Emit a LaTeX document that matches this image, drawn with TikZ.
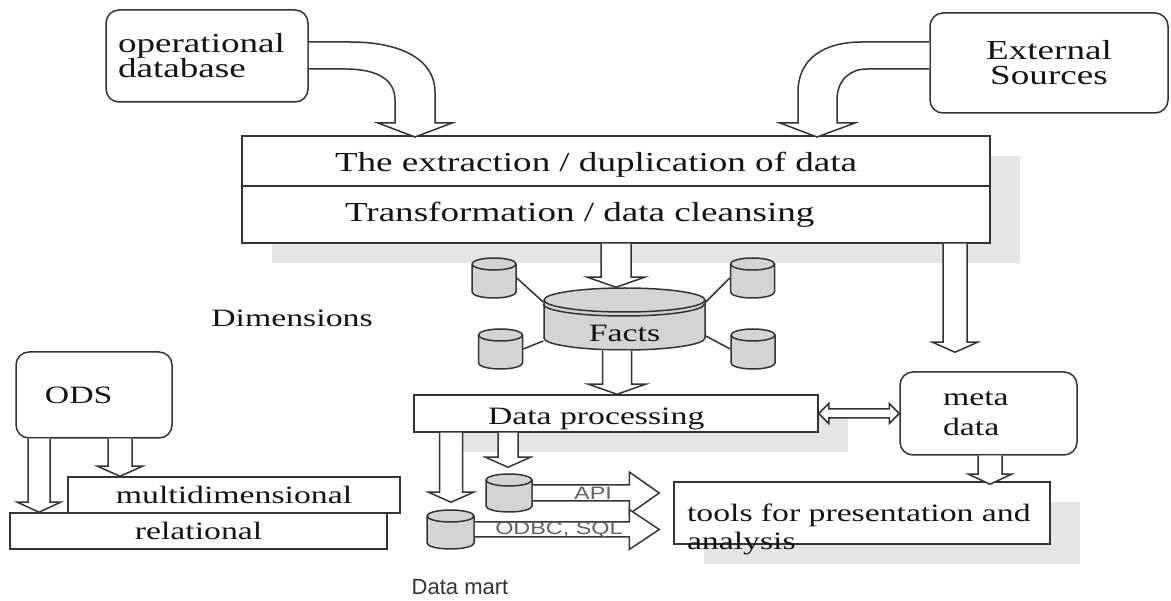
\documentclass[tikz,border=0pt]{standalone}
\usepackage{fontspec}
\setmainfont{Liberation Serif}[FakeStretch=1.35]
\newfontfamily\labelfont{Liberation Sans}[FakeStretch=1.3]
\newfontfamily\martfont{Liberation Sans}
\usetikzlibrary{shadows,calc}

\begin{document}
\begin{tikzpicture}[x=1pt, y=-1pt, line width=1.5pt,
    every node/.style={text=black!92},
    frame/.style={draw=black!80, fill=white, inner sep=0pt},
    roundbox/.style={frame, rounded corners=13pt},
    shadebox/.style={frame, drop shadow={shadow xshift=30pt, shadow yshift=-20pt, fill=black!10, opacity=1}},
    can/.style={draw=black!80, fill=black!17},
    fatarrow/.style={draw=black!80, fill=white, line width=1.5pt, line join=miter},
    big/.style={font=\fontsize{27.5}{25}\selectfont},
    norm/.style={font=\fontsize{25}{28}\selectfont},
    sans/.style={font=\labelfont\fontsize{18}{20}\selectfont, text=black!62}]
  % 1 unit = 1pt, y runs downwards
  \useasboundingbox (0,0) rectangle (1171,601);

  % hollow block arrows: x, from, to, half shaft, half head
  \newcommand{\fatdown}[5]{
    \draw[fatarrow] let \p1=#2, \p2=#3 in
      (#1pt-#4pt,\y1) -- (#1pt-#4pt,\y2+10pt) -- (#1pt-#5pt,\y2+10pt) -- (#1pt,\y2)
      -- (#1pt+#5pt,\y2+10pt) -- (#1pt+#4pt,\y2+10pt) -- (#1pt+#4pt,\y1);
  }
  % from, to, half shaft, half head, head length
  \newcommand{\fatright}[5]{
    \draw[fatarrow] let \p1=#1, \p2=#2 in
      (\x1,\y1+#3pt) -- (\x2-#5pt,\y1+#3pt) -- (\x2-#5pt,\y1+#4pt) -- (\x2,\y1)
      -- (\x2-#5pt,\y1-#4pt) -- (\x2-#5pt,\y1-#3pt) -- (\x1,\y1-#3pt);
  }
  % database can: [node opts] name, x, y, width, height, cap radius, text
  \newcommand{\dbcan}[8][]{
    \filldraw[can] ({#3-#5/2},{#4-#6/2+#7}) -- ({#3-#5/2},{#4+#6/2-#7})
      arc[start angle=180, end angle=360, x radius={#5/2*1pt}, y radius=#7pt]
      -- ({#3+#5/2},{#4-#6/2+#7})
      arc[start angle=0, end angle=180, x radius={#5/2*1pt}, y radius=#7pt] -- cycle;
    \draw[can, fill=none] ({#3-#5/2},{#4-#6/2+#7})
      arc[start angle=180, end angle=360, x radius={#5/2*1pt}, y radius=#7pt];
    \node[minimum width=#5pt, minimum height=#6pt, inner sep=0pt, #1] (#2) at (#3,#4) {#8};
  }

  % sources
  \node[roundbox, big, minimum width=202pt, minimum height=92pt, inner xsep=12pt, text width=178pt, align=left] (opdb) at (207,56) {operational\\database};
  \node[roundbox, big, minimum width=238pt, minimum height=100pt, align=center] (ext) at (1049,63) {External\\Sources};

  % extraction / transformation layer
  \node[shadebox, big, minimum height=50pt, inner xsep=93pt, text width=562pt, align=left, text height=22pt, text depth=0pt] (extract) at (616,161) {The extraction / duplication of data};
  \node[shadebox, big, minimum height=57pt, inner xsep=103pt, text width=542pt, align=left] (transform) at (616,214.5) {Transformation / data cleansing};

  % star schema
  \dbcan[norm, text height=46pt, text depth=0pt]{facts}{624.5}{319}{161}{62}{12}{Facts}
  \draw[can, fill=none] ($(facts.west)+(0,-15)$) arc[start angle=180, end angle=360, x radius=80.5pt, y radius=12pt];
  \dbcan{dimul}{494}{278}{44}{40}{6}{}
  \dbcan{dimur}{752.5}{278}{44}{40}{6}{}
  \dbcan{dimll}{500.5}{349}{44}{40}{6}{}
  \dbcan{dimlr}{753}{349}{44}{40}{6}{}
  \draw[draw=black!80] (dimul.east) -- ([yshift=17pt]facts.west);
  \draw[draw=black!80] (dimur.west) -- ([yshift=17pt]facts.east);
  \draw[draw=black!80] (dimll.east) -- ([yshift=-22pt]facts.west);
  \draw[draw=black!80] (dimlr.west) -- ([yshift=-17pt]facts.east);
  \node[norm] (dimlabel) at (292,318) {Dimensions};

  % processing and output
  \node[shadebox, norm, minimum width=404pt, minimum height=37pt, inner xsep=74pt, text width=256pt, align=left, text height=23pt, text depth=0pt] (dp) at (616,413.5) {Data processing};
  \node[roundbox, norm, minimum width=177pt, minimum height=83pt, inner xsep=43pt, text width=91pt, align=left, font=\fontsize{25}{30}\selectfont] (meta) at (988.5,413.5) {meta\\data};
  \node[shadebox, norm, minimum width=376pt, minimum height=62pt, inner xsep=13pt, text width=350pt, align=left, text depth=0pt] (tools) at (862,513) {tools for presentation and\\analysis};

  % data mart
  \dbcan{api}{509}{493}{46}{38}{6}{}
  \dbcan{odbc}{450.5}{529.5}{47}{39}{6}{}
  \node[font=\martfont\fontsize{22}{24}\selectfont, text=black!80] (mart) at (460,587) {Data mart};

  % ODS side
  \node[roundbox, norm, minimum width=156pt, minimum height=86pt, inner xsep=29pt, text width=98pt, align=left] (ods) at (94,395) {ODS};
  \node[frame, norm, minimum width=377pt, minimum height=36pt] (relational) at (198.5,531) {relational};
  \node[frame, norm, minimum width=332pt, minimum height=36pt] (multi) at (234,495) {multidimensional};

  % curved arrows into the top layer
  \draw[fatarrow] ([yshift=14pt]opdb.east) -- (350,42) .. controls (402,42) and (435,60) .. (435,92)
    -- (435,123) -- (452,123) -- (415,137) -- (378,123) -- (395,123) -- (395,100)
    .. controls (395,80) and (378,69) .. (345,69) -- ([yshift=-13pt]opdb.east);
  \draw[fatarrow] ([yshift=21pt]ext.west) -- (862,42) .. controls (822,42) and (798,60) .. (798,92)
    -- (798,123) -- (780,123) -- (817,137) -- (855,123) -- (837,123) -- (837,100)
    .. controls (837,80) and (850,69) .. (867,69) -- ([yshift=-6pt]ext.west);

  % straight arrows
  \fatdown{616}{(transform.south)}{(facts.north)}{15}{28.5}
  \fatdown{617}{(facts.south)}{(dp.north)}{14.5}{28.5}
  \fatdown{955}{(transform.south)}{([yshift=19pt]meta.north)}{12}{22.5}
  \fatdown{990}{(meta.south)}{([yshift=-3pt]tools.north)}{12}{21.5}
  \fatdown{451}{(dp.south)}{([yshift=7pt]odbc.north)}{11.5}{22.5}
  \fatdown{508}{(dp.south)}{([yshift=6pt]api.north)}{10}{22.5}
  \fatdown{39}{(ods.south)}{(relational.north)}{11}{21.5}
  \fatdown{120}{(ods.south)}{(multi.north)}{12}{22.5}
  \fatright{(api.east)}{([xshift=-14pt]tools.west)}{8}{21}{30}
  \fatright{(odbc.east)}{([xshift=-14pt]tools.west)}{7.5}{20}{30}
  \node[sans] (apitext) at (593,493) {API};
  \node[sans] (odbctext) at (559,530) {ODBC, SQL};

  % two-way link to the meta data
  \draw[fatarrow] let \p1=(dp.east), \p2=(meta.west) in
    (\x1,\y1) -- (\x1+10pt,\y1+10pt) -- (\x1+10pt,\y1+4.5pt) -- (\x2-10pt,\y1+4.5pt)
    -- (\x2-10pt,\y1+10pt) -- (\x2,\y1) -- (\x2-10pt,\y1-10pt) -- (\x2-10pt,\y1-4.5pt)
    -- (\x1+10pt,\y1-4.5pt) -- (\x1+10pt,\y1-10pt) -- cycle;
\end{tikzpicture}
\end{document}
